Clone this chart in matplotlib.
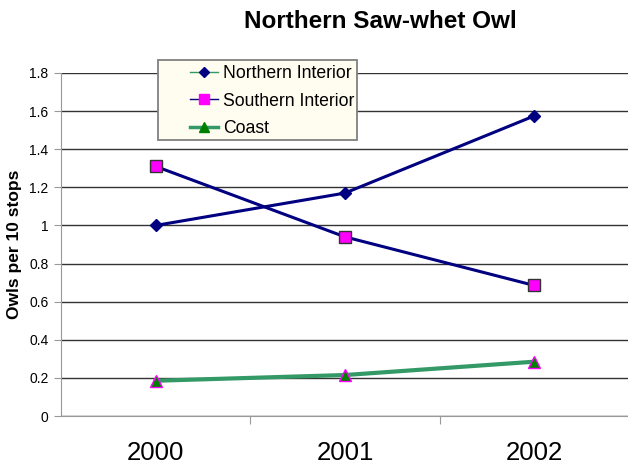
import matplotlib.pyplot as plt
from matplotlib.lines import Line2D
from matplotlib.patches import Rectangle

plt.rcParams['font.family'] = ['Liberation Sans', 'DejaVu Sans']

years = ["2000", "2001", "2002"]
northernInterior = [1.0, 1.17, 1.575]
southernInterior = [1.31, 0.94, 0.685]
coast = [0.185, 0.215, 0.285]
yTicks = [0, 0.2, 0.4, 0.6, 0.8, 1, 1.2, 1.4, 1.6, 1.8]

fig = plt.figure(figsize=(6.28, 4.66), dpi=100)
ax = fig.add_axes([61 / 628, 1 - 416 / 466, 568 / 628, 343 / 466])

x = range(len(years))
ax.plot(x, northernInterior, color="#000080", lw=2.2, marker="D", ms=6,
        mfc="#000080", mec="#000080", zorder=3)
ax.plot(x, southernInterior, color="#000080", lw=2.2, marker="s", ms=8,
        mfc="#FF00FF", mec="#333333", zorder=3)
ax.plot(x, coast, color="#339966", lw=3, marker="^", ms=8,
        mfc="#008000", mec="#FF00FF", zorder=3)

ax.set_xlim(-0.5, 2.5)
ax.set_ylim(0, 1.8)
ax.set_yticks(yTicks)
ax.set_yticklabels([("%g" % v) for v in yTicks], fontsize=10)
ax.yaxis.grid(True, color="#333333", lw=1.0)
ax.set_axisbelow(True)

ax.set_xticks([0.5, 1.5], minor=False)
ax.set_xticklabels([])
ax.set_xticks(list(x), minor=True)
ax.set_xticklabels(years, minor=True, fontsize=18.5)
ax.tick_params(axis="x", which="minor", length=0, pad=18)
ax.tick_params(axis="x", which="major", length=6, direction="out", color="#999999")
ax.tick_params(axis="y", length=5, direction="out", color="#999999", pad=4)

for side in ["top", "right"]:
    ax.spines[side].set_visible(False)
for side in ["left", "bottom"]:
    ax.spines[side].set_color("#999999")

ax.set_ylabel("Owls per 10 stops", fontsize=12.5, fontweight="bold")
ax.yaxis.set_label_coords(-0.068, 0.5)
fig.text(380 / 628, 1 - 22 / 466, "Northern Saw-whet Owl", ha="center", va="center",
         fontsize=17.5, fontweight="bold")

# legend frame drawn separately so the handles can sit inside with extra left room
fig.patches.append(Rectangle((158 / 628, 1 - 140 / 466), 199 / 628, 80 / 466,
                             transform=fig.transFigure, facecolor="#FFFDF0",
                             edgecolor="#808080", lw=1.3, zorder=4))

handles = [
    Line2D([], [], color="#339966", lw=1, marker="D", ms=5, mfc="#000080", mec="#000080"),
    Line2D([], [], color="#000080", lw=1, marker="s", ms=7, mfc="#FF00FF", mec="#FF00FF"),
    Line2D([], [], color="#339966", lw=2.5, marker="^", ms=7, mfc="#008000", mec="#008000"),
]
leg = fig.legend(handles, ["Northern Interior", "Southern Interior", "Coast"],
                 loc="upper left", bbox_to_anchor=(190 / 628, 1 - 65 / 466),
                 fontsize=12.7, frameon=False, handlelength=1.6,
                 borderpad=0, borderaxespad=0, labelspacing=0.6,
                 handletextpad=0.25)
leg.set_zorder(5)

fig.savefig("out.png", dpi=100)
